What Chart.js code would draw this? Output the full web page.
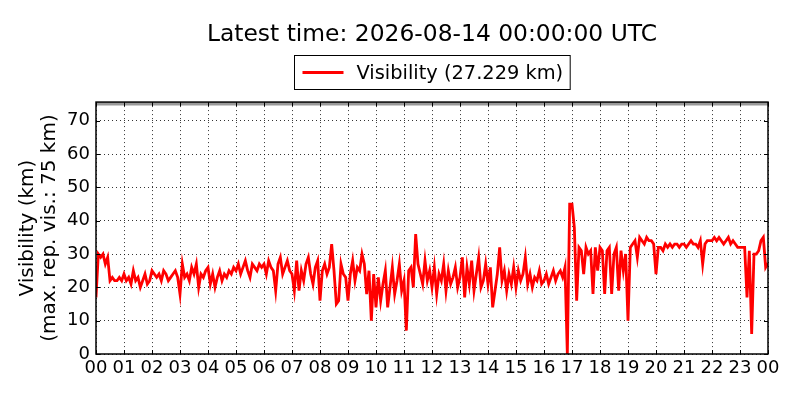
<!DOCTYPE html>
<html><head><meta charset="utf-8">
<script src="https://cdn.jsdelivr.net/npm/chart.js@4/dist/chart.umd.min.js"></script>
<style>html,body{margin:0;padding:0;background:#fff}</style>
</head><body>
<canvas id="c" width="800" height="400"></canvas>
<script>
const titleText = 'Latest time: 2026-08-14 00:00:00 UTC';
const seriesLabel = 'Visibility (27.229 km)';
const yTitleLines = ['Visibility (km)', '(max. rep. vis.: 75 km)'];
const xTickLabels = ['00','01','02','03','04','05','06','07','08','09','10','11','12','13','14','15','16','17','18','19','20','21','22','23','00'];
const stepMinutes = 5;
const maxReportedVisibility = 75;
const yTickValues = [0,10,20,30,40,50,60,70];
// visibility (km), one value per 5 minutes from 00:00 to 24:00
const visibility = [
  17,30,29,30,27,29,22,23,22,22,23,22,
  24,22,23,21,25,22,23,20,22,24,21,22,
  25,24,23,24,22,25,24,22,23,24,25,23,
  18,27,23,24,22,26,24,27,20,24,23,25,
  26,21,24,20,23,25,22,24,23,25,24,26,
  25,27,24,26,28,25,23,27,26,25,27,26,
  27,24,28,26,25,19,27,29,24,26,28,25,
  24,19,28,19,25,22,27,29,24,21,26,28,
  16,25,27,24,26,33,25,15,16,27,24,23,
  16,24,28,22,26,25,30,27,18,25,10,24,
  14,23,16,21,25,14,20,26,18,22,27,19,
  22,7,25,26,20,36,27,24,21,28,22,25,
  20,26,18,24,22,27,19,25,21,23,26,20,
  23,29,17,26,21,28,19,24,29,20,22,27,
  21,26,14,19,24,32,22,25,19,24,21,26,
  20,25,22,24,29,21,24,20,23,22,25,21,
  22,24,21,23,25,22,24,25,23,26,0,45,
  45,38,16,32,31,24,32,30,31,18,32,25,
  32,31,18,31,32,18,30,32,19,31,25,30,
  10,32,33,34,29,35,34,33,35,34,34,33,
  24,32,32,31,33,32,33,32,33,33,32,33,
  33,32,33,34,33,33,32,34,27,33,34,34,
  34,35,34,35,34,33,34,35,33,34,33,32,
  32,32,32,17,31,6,30,30,31,34,35,26,
  27.229
];

const points = visibility.map((v, i) => ({x: i * stepMinutes / 60, y: v}));
const FONT = 'DejaVu Sans';

const framePlugin = {
  id: 'frame',
  beforeDatasetsDraw(chart) {
    const {ctx, chartArea: a, scales: {y}} = chart;
    const py = y.getPixelForValue(maxReportedVisibility);
    ctx.save();
    ctx.strokeStyle = '#999999';
    ctx.lineWidth = 3;
    ctx.beginPath();
    ctx.moveTo(a.left, py);
    ctx.lineTo(a.right, py);
    ctx.stroke();
    ctx.restore();
  },
  afterDatasetsDraw(chart) {
    const {ctx, chartArea: a, scales: {x, y}} = chart;
    ctx.save();
    ctx.strokeStyle = '#000';
    ctx.lineWidth = 1;
    ctx.beginPath();
    yTickValues.forEach(v => {
      const p = Math.round(y.getPixelForValue(v)) + 0.5;
      ctx.moveTo(a.left, p); ctx.lineTo(a.left + 4, p);
      ctx.moveTo(a.right, p); ctx.lineTo(a.right - 4, p);
    });
    xTickLabels.forEach((l, i) => {
      const p = Math.round(x.getPixelForValue(i)) + 0.5;
      ctx.moveTo(p, a.bottom); ctx.lineTo(p, a.bottom - 4);
      ctx.moveTo(p, a.top); ctx.lineTo(p, a.top + 4);
    });
    ctx.stroke();
    ctx.lineWidth = 1.5;
    ctx.strokeRect(a.left, a.top, a.right - a.left, a.bottom - a.top);
    ctx.restore();
  },
  afterDraw(chart) {
    const {ctx, chartArea: a} = chart;
    ctx.save();
    ctx.font = '19.4px "' + FONT + '"';
    const tw = ctx.measureText(seriesLabel).width;
    const cx = (a.left + a.right) / 2;
    const boxW = 8 + 41 + 13 + tw + 7;
    const bx = Math.round(cx - boxW / 2) + 0.5;
    const by = 55.5, bh = 34;
    ctx.fillStyle = '#fff';
    ctx.fillRect(bx, by, boxW, bh);
    ctx.strokeStyle = '#000';
    ctx.lineWidth = 1;
    ctx.strokeRect(bx, by, boxW, bh);
    ctx.strokeStyle = '#ff0000';
    ctx.lineWidth = 3;
    ctx.beginPath();
    ctx.moveTo(bx + 8, by + bh / 2);
    ctx.lineTo(bx + 49, by + bh / 2);
    ctx.stroke();
    ctx.fillStyle = '#000';
    ctx.textBaseline = 'middle';
    ctx.textAlign = 'left';
    ctx.fillText(seriesLabel, bx + 62, by + bh / 2 + 1);
    ctx.restore();
  }
};

new Chart(document.getElementById('c'), {
  type: 'line',
  data: {
    datasets: [{
      label: seriesLabel,
      data: points,
      borderColor: '#ff0000',
      backgroundColor: '#ff0000',
      borderWidth: 2.8,
      pointRadius: 0,
      tension: 0,
      fill: false
    }]
  },
  options: {
    responsive: false,
    animation: false,
    devicePixelRatio: 1,
    layout: {padding: {left: 0, right: 32, top: 0, bottom: 0}},
    plugins: {
      legend: {display: false},
      tooltip: {enabled: false},
      title: {
        display: true,
        fullSize: false,
        text: titleText,
        color: '#000',
        font: {family: FONT, size: 23.4, weight: 'normal', lineHeight: 1.2},
        padding: {top: 21, bottom: 53}
      }
    },
    scales: {
      x: {
        type: 'linear',
        min: 0, max: 24,
        afterFit(s) { s.height = 46; },
        afterBuildTicks(s) { s.ticks = xTickLabels.map((l, i) => ({value: i})); },
        ticks: {
          stepSize: 1, autoSkip: false, maxRotation: 0, padding: 4,
          color: '#000', font: {family: FONT, size: 18},
          callback: (v) => xTickLabels[v]
        },
        grid: {color: '#000', lineWidth: 0.8, drawTicks: false},
        border: {display: false, dash: [1, 3]}
      },
      y: {
        min: 0, max: 75.6,
        afterFit(s) { s.width = 96; },
        afterBuildTicks(s) { s.ticks = yTickValues.map(v => ({value: v})); },
        ticks: {
          stepSize: 10, padding: 6,
          color: '#000', font: {family: FONT, size: 18}
        },
        grid: {color: '#000', lineWidth: 0.8, drawTicks: false},
        border: {display: false, dash: [1, 3]},
        title: {
          display: true,
          text: yTitleLines,
          color: '#000',
          font: {family: FONT, size: 20, lineHeight: 1.1},
          padding: {top: 17, bottom: 0}
        }
      }
    }
  },
  plugins: [framePlugin]
});
</script>
</body></html>
